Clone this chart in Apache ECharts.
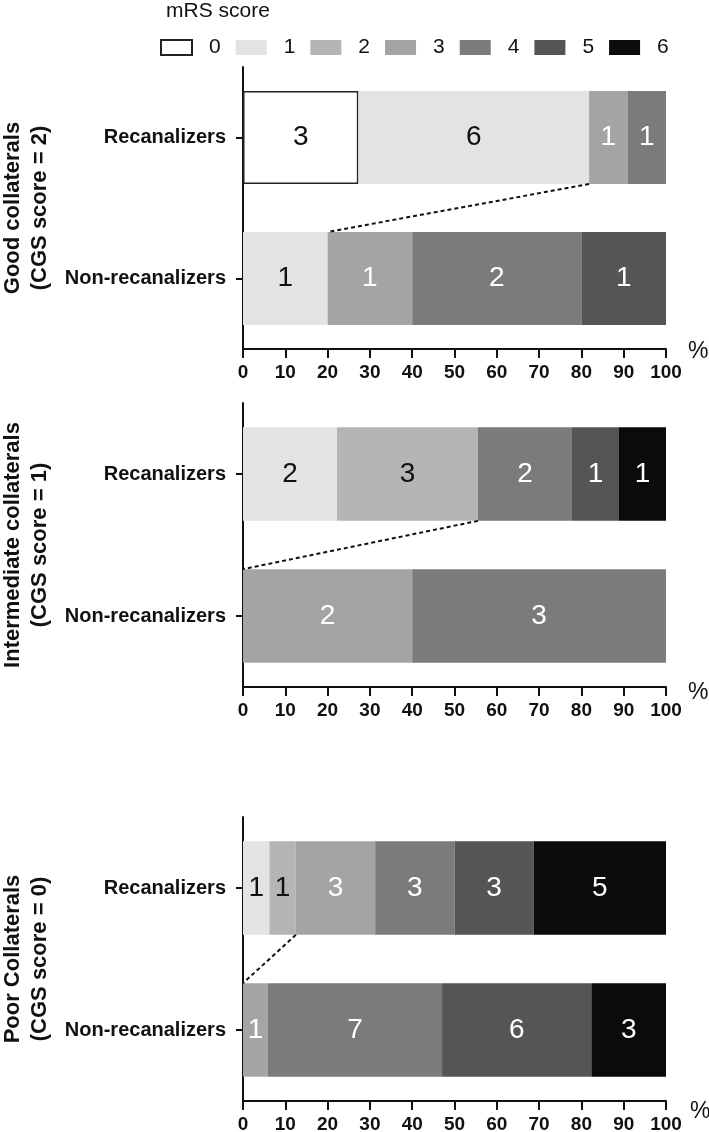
<!DOCTYPE html>
<html>
<head>
<meta charset="utf-8">
<script src="https://cdn.jsdelivr.net/npm/echarts@6/dist/echarts.min.js"></script>
<style>
html,body{margin:0;padding:0;background:#fff;}
#chart{width:709px;height:1132px;}
</style>
</head>
<body>
<div id="chart"></div>
<script>
// ---- data ----
const categories = ['Recanalizers', 'Non-recanalizers'];
const mrsScores = ['0', '1', '2', '3', '4', '5', '6'];
const panelTitles = [
  'Good collaterals\n(CGS score = 2)',
  'Intermediate collaterals\n(CGS score = 1)',
  'Poor Collaterals\n(CGS score = 0)'
];
// patient counts per mRS score (0..6)
const goodRecan = [3, 6, 0, 1, 1, 0, 0];
const goodNonRecan = [0, 1, 0, 1, 2, 1, 0];
const interRecan = [0, 2, 3, 0, 2, 1, 1];
const interNonRecan = [0, 0, 0, 2, 3, 0, 0];
const poorRecan = [0, 1, 1, 3, 3, 3, 5];
const poorNonRecan = [0, 0, 0, 1, 7, 6, 3];
const xMin = 0, xMax = 100, xInterval = 10;
const goodOutcomeMax = 2; // dotted line separates mRS 0-2 from 3-6

// ---- styles ----
const colors = ['#ffffff', '#e3e3e3', '#b5b5b5', '#a4a4a4', '#7b7b7b', '#555555', '#0b0b0b'];
const labelColors = ['#111', '#111', '#111', '#fff', '#fff', '#fff', '#fff'];
const FONT = 'Liberation Sans, Arial, sans-serif';
const panels = [
  { recan: goodRecan, non: goodNonRecan, top: 67, bottom: 349, pctLH: 6, pctGap: 22 },
  { recan: interRecan, non: interNonRecan, top: 403, bottom: 687, pctLH: 12, pctGap: 22 },
  { recan: poorRecan, non: poorNonRecan, top: 817, bottom: 1101, pctLH: 22, pctGap: 24 }
];
const gridLeft = 243, gridRight = 666;
const barFrac = 0.66;

function pct(arr) {
  const total = arr.reduce((a, b) => a + b, 0);
  return arr.map(v => v / total * 100);
}

const grids = [], xAxes = [], yAxes = [], series = [], graphics = [];
panels.forEach((p, i) => {
  grids.push({ left: gridLeft, width: gridRight - gridLeft, top: p.top, height: p.bottom - p.top,
    containLabel: false, outerBoundsMode: 'none' });
  xAxes.push({
    type: 'value', gridIndex: i, position: 'bottom', min: xMin, max: xMax, interval: xInterval,
    name: '%', nameLocation: 'end', nameGap: p.pctGap,
    nameTextStyle: { fontSize: 23, color: '#111', fontFamily: FONT, verticalAlign: 'top', lineHeight: p.pctLH },
    axisLine: { show: true, onZero: false, lineStyle: { color: '#111', width: 2 } },
    axisTick: { show: true, length: 9, lineStyle: { color: '#111', width: 2 } },
    axisLabel: { fontSize: 19, fontWeight: 'bold', color: '#111', fontFamily: FONT, margin: 14 },
    splitLine: { show: false }
  });
  yAxes.push({
    type: 'category', gridIndex: i, data: categories, inverse: true, position: 'left',
    axisLine: { show: true, onZero: false, lineStyle: { color: '#111', width: 2 } },
    axisTick: { show: true, length: 7, alignWithLabel: true, lineStyle: { color: '#111', width: 2 } },
    axisLabel: { fontSize: 20, fontWeight: 'bold', color: '#111', fontFamily: FONT, margin: 17 }
  });
  const rp = pct(p.recan), np = pct(p.non);
  mrsScores.forEach((s, k) => {
    series.push({
      type: 'bar', name: s, xAxisIndex: i, yAxisIndex: i, stack: 'p' + i,
      barWidth: (barFrac * 100) + '%',
      itemStyle: k === 0 ? { color: colors[k], borderColor: '#222', borderWidth: 1.5 } : { color: colors[k] },
      label: {
        show: true, position: 'inside', fontSize: 28, color: labelColors[k], fontFamily: FONT,
        formatter: prm => String(prm.dataIndex === 0 ? p.recan[k] : p.non[k])
      },
      data: [p.recan[k] ? rp[k] : '-', p.non[k] ? np[k] : '-']
    });
  });
  // dotted separator between mRS 0-2 and 3-6
  const cumR = rp.slice(0, goodOutcomeMax + 1).reduce((a, b) => a + b, 0);
  const cumN = np.slice(0, goodOutcomeMax + 1).reduce((a, b) => a + b, 0);
  series.push({
    type: 'line', name: 'split', xAxisIndex: i, yAxisIndex: 3 + i,
    symbol: 'none', silent: true, z: 5,
    lineStyle: { color: '#111', width: 2, type: [4, 3] },
    data: [[cumR, 0.5 + barFrac / 2], [cumN, 1.5 - barFrac / 2]]
  });
  graphics.push({
    type: 'text', x: 26, y: (p.top + p.bottom) / 2, rotation: Math.PI / 2,
    style: {
      text: panelTitles[i], fontSize: 22, fontWeight: 'bold', fontFamily: FONT, fill: '#111',
      align: 'center', verticalAlign: 'middle', lineHeight: 27
    }
  });
});
panels.forEach((p, i) => {
  yAxes.push({ type: 'value', gridIndex: i, min: 0, max: 2, inverse: true, show: false,
    axisLine: { onZero: false } });
});

const chart = echarts.init(document.getElementById('chart'), null, { renderer: 'canvas' });
chart.setOption({
  animation: false,
  backgroundColor: '#fff',
  title: { text: 'mRS score', left: 166, top: 1, padding: 0,
    textStyle: { fontSize: 21, fontWeight: 'normal', color: '#111', fontFamily: FONT } },
  legend: {
    data: mrsScores, left: 160, top: 37, padding: 0, icon: 'rect',
    itemWidth: 31, itemHeight: 15, itemGap: 15,
    textStyle: { fontSize: 21, color: '#111', fontFamily: FONT, padding: [0, 0, 0, 12] },
    selectedMode: false
  },
  grid: grids, xAxis: xAxes, yAxis: yAxes, series: series, graphic: graphics
});
</script>
</body>
</html>
